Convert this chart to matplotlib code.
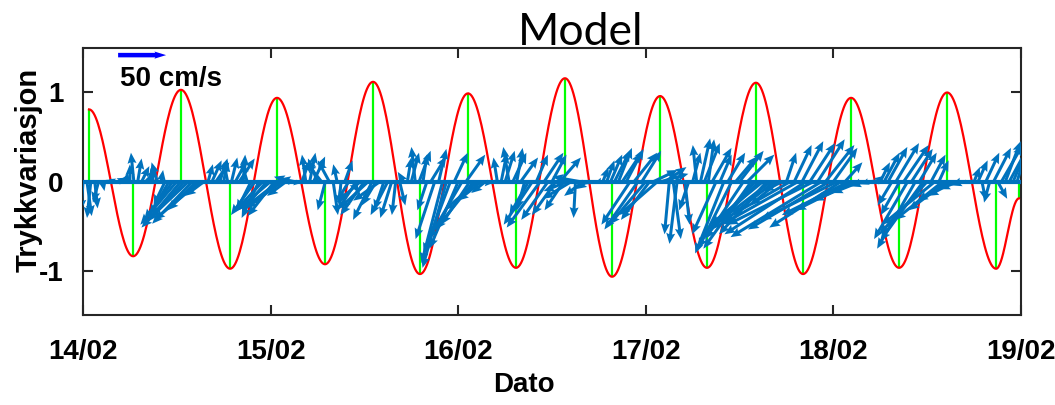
import numpy as np
import matplotlib
matplotlib.use('Agg')
import matplotlib.pyplot as plt

plt.rcParams['axes.unicode_minus'] = False

# Tidal pressure variation: times of turning points (days after 14/02 00:00) and levels
turn_days = [0.032, 0.267, 0.522, 0.784, 1.034, 1.290, 1.546, 1.796, 2.052, 2.308, 2.569,
             2.820, 3.076, 3.326, 3.587, 3.838, 4.094, 4.350, 4.606, 4.867, 4.989]
turn_level = [0.81, -0.84, 1.03, -0.98, 0.94, -0.93, 1.12, -1.04, 0.99, -0.97, 1.16,
              -1.07, 0.96, -0.97, 1.11, -1.04, 0.94, -0.97, 1.00, -0.98, -0.19]

# Current vectors every 30 min (cm/s), east (u) and north (v) components
u = [
    -2, 5, -4, 3, -6, 2, 4, 6, 3, 8, 5, 2,
    0, -3, 4, 8, 12, 6, -3, -6, 2, -12, -20, -30,
    -38, -35, -45, -40, -42, -30, -48, -20, 5, 10, 14, 8,
    4, -4, 6, 12, 16, 2, -6, -15, -25, -18, -30, -25,
    -35, -28, -32, -38, -20, -17, -15, -5, 8, -4, 6, 12,
    -10, -16, -8, -12, 5, -4, -2, 8, -12, 6, -20, -25,
    -25, -30, -20, -15, -28, -10, -18, -12, -4, 6, -6, 4,
    8, -4, 12, 4, -10, 16, -20, 8, -22, -25, -28, 14,
    -30, -35, 20, -30, -40, -35, -25, -15, -5, 3, -4, 6,
    10, -6, 14, 6, 18, -8, -20, -30, 12, -35, 20, -28,
    15, -25, 22, -20, -25, -30, -2, -28, -20, -12, -6, -3,
    2, 6, 8, 12, 16, 14, 20, 18, -30, 24, -35, 20,
    -38, -30, 25, -40, 28, 22, -5, 8, -8, -15, 5, -10,
    8, -4, 10, 16, 6, 20, -25, 12, -30, 18, -35, 22,
    25, -40, 28, -50, -45, -60, -55, -50, -65, -45, -30, -20,
    10, -70, 18, -80, 22, -85, 26, -90, 28, -95, 30, -85,
    25, -80, -75, 18, -70, -60, -45, -30, -15, -8, 4, 8,
    10, 16, 20, -15, 24, -20, 26, -35, 22, -40, 18, -45,
    -50, 15, -55, 10, -50, -40, -35, -28, -20, -12, -5, 3,
    6, 10, 4, 14, -6, 18, 10, 22, 16, 24, 20, 12,
]
v = [
    -30, -36, -38, -28, -22, -10, 2, 3, -2, 4, 6, 10,
    18, 30, 24, 16, 12, 8, 14, 20, 12, -25, -35, -40,
    -45, -42, -48, -38, -44, -30, -40, -15, 18, 22, 20, 24,
    22, 20, 25, 22, 24, 28, 20, -30, -35, -38, -32, -30,
    -30, -36, -25, -28, -15, 5, 3, -4, 22, 28, 30, 26,
    24, 20, -30, 22, -35, 18, -25, 22, -20, -12, -30, -22,
    -35, -28, -40, -25, -20, -30, -35, -38, -35, -25, 10, 25,
    30, 36, 32, 28, -30, 26, -60, 34, -85, -90, -75, 30,
    -70, -60, 28, -45, -50, -30, -20, -12, -5, 2, 25, 30,
    32, 36, 30, 35, 25, -30, -35, -45, 28, -48, 30, -40,
    28, -35, 25, -30, -10, -18, -38, 5, -15, -8, -3, -1,
    4, 15, 22, 28, 32, 35, 30, 34, -45, 30, -50, 32,
    -45, -40, 12, -35, 8, 15, -55, -60, -65, 10, -45, -30,
    30, 38, 45, 40, 44, 35, -55, 28, -75, 30, -70, 26,
    32, -60, 28, -70, -50, -60, -45, -55, -50, -35, -25, -10,
    30, -40, 38, -45, 42, -55, 40, -45, 44, -58, 38, -50,
    35, -40, -48, 20, -35, -30, -20, -12, -5, -3, 2, 6,
    20, 30, 36, -25, 40, -35, 38, -60, 34, -70, 30, -62,
    -55, 28, -45, 22, -40, -30, -20, -15, -8, -4, -2, 2,
    15, 22, -20, 30, -22, 35, -18, 38, 42, 44, 48, 40,
]
vec_days = np.arange(len(u)) / 48.0

ref_speed = 50  # cm/s
day_ticks = [0, 1, 2, 3, 4, 5]
day_labels = ['14/02', '15/02', '16/02', '17/02', '18/02', '19/02']

# smooth tide curve through the turning points (half-cosine between them)
tt, hh = [], []
for k in range(len(turn_days) - 1):
    t0, t1 = turn_days[k], turn_days[k + 1]
    h0, h1 = turn_level[k], turn_level[k + 1]
    s = np.linspace(0, 1, 40)
    tt.append(t0 + s * (t1 - t0))
    hh.append(0.5 * (h0 + h1) + 0.5 * (h0 - h1) * np.cos(np.pi * s))
tt = np.concatenate(tt)
hh = np.concatenate(hh)

font = ['Liberation Sans', 'DejaVu Sans']
blue = '#0072BD'
px_per_unit = 0.96  # pixels per cm/s

fig = plt.figure(figsize=(10.55, 4.05), dpi=100)
ax = fig.add_axes([0.0787, 0.2222, 0.8891, 0.6593])

ax.vlines(turn_days, 0, turn_level, color='#00FF00', lw=1.6, zorder=2)
ax.plot(tt, hh, color='red', lw=1.6, zorder=3)
ax.axhline(0, color=blue, lw=3.0, zorder=4)
ax.quiver(vec_days, np.zeros(len(u)), u, v, color=blue, angles='uv',
          scale_units='inches', scale=100 / px_per_unit, units='dots',
          width=3.0, headwidth=3.0, headlength=3.6, headaxislength=3.2, zorder=5)

# scale arrow
ax.quiver([0.187], [1.42], [ref_speed], [0], color='#0000FF', angles='uv',
          scale_units='inches', scale=100 / px_per_unit, units='dots',
          width=4.5, headwidth=1.6, headlength=2.6, headaxislength=2.4, zorder=6)
ax.text(0.197, 1.30, f'{ref_speed} cm/s', family=font, fontweight='bold',
        fontsize=20, ha='left', va='top')

ax.set_xlim(0, 5)
ax.set_ylim(-1.5, 1.5)
ax.set_xticks(day_ticks)
ax.set_xticklabels(day_labels)
ax.set_yticks([-1, 0, 1])
ax.tick_params(direction='in', length=7, width=1.5, top=True, right=True,
               labelsize=20, colors='#262626')
ax.tick_params(axis='x', pad=17)
ax.tick_params(axis='y', pad=14)
for lab in ax.get_xticklabels() + ax.get_yticklabels():
    lab.set_family(font)
    lab.set_fontweight('bold')
    lab.set_color('black')
for sp in ax.spines.values():
    sp.set_linewidth(1.5)
    sp.set_color('#262626')

ax.set_xlabel('Dato', family=font, fontweight='bold', fontsize=20)
ax.xaxis.set_label_coords(0.470, -0.215)
ax.set_ylabel('Trykkvariasjon', family=font, fontweight='bold', fontsize=21)
ax.yaxis.set_label_coords(-0.043, 0.543)
ax.set_title('Model', family='Lato', fontsize=32, pad=2, x=0.531)

fig.savefig('out.png', dpi=100)
